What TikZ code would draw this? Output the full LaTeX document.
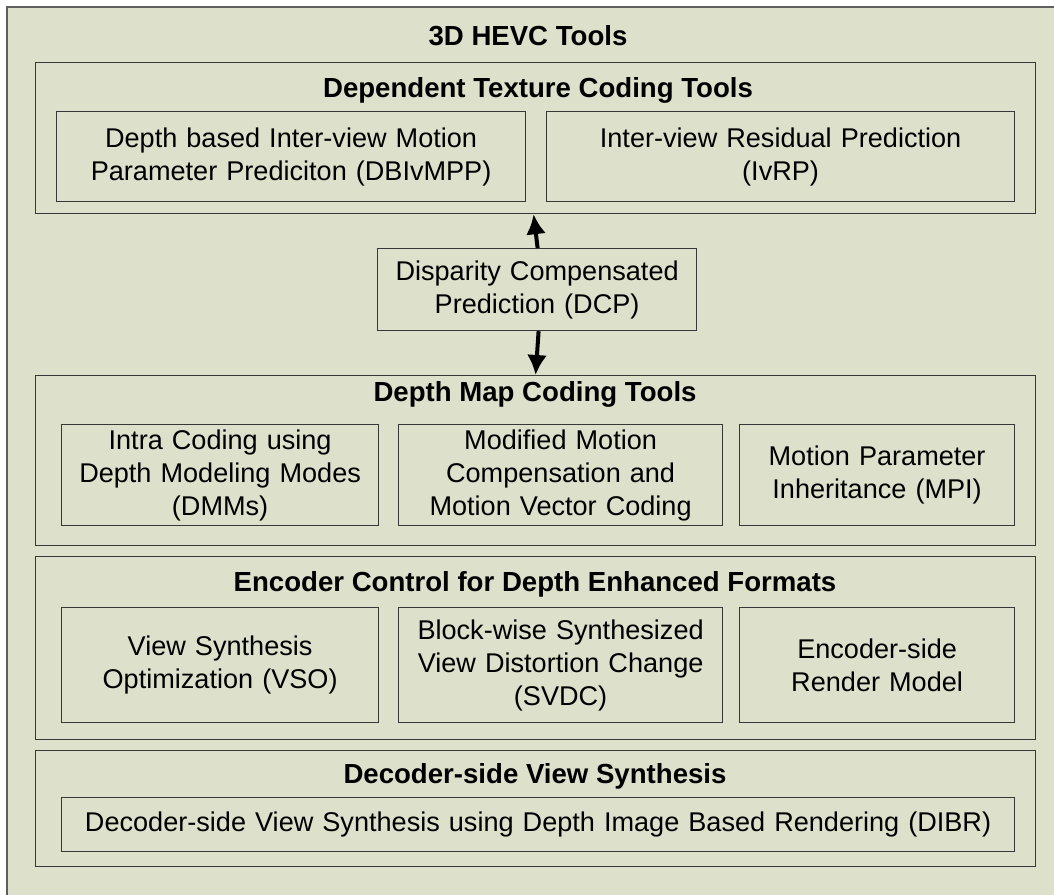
\documentclass[tikz,border=0pt]{standalone}
\usepackage{fontspec}
\setmainfont{Liberation Sans}
\usetikzlibrary{arrows.meta}

\definecolor{panelgreen}{RGB}{221,224,203}
\definecolor{boxline}{RGB}{55,55,55}

\begin{document}
\begin{tikzpicture}[x=1pt, y=-1pt,
		group/.style={draw=boxline, line width=1.2pt, anchor=north west, inner sep=0pt},
		tool/.style={draw=boxline, line width=1.2pt, anchor=north west, inner sep=0pt,
				align=center, font=\fontsize{27.1}{33}\selectfont},
		heading/.style={anchor=base, inner sep=0pt, font=\fontsize{27.6}{30}\selectfont\bfseries},
		link/.style={line width=4pt, -{Latex[length=20pt, width=20pt]}}
	]
		\useasboundingbox (0, 0) rectangle (1054, 894);
		\begin{scope}
			\clip (0, 0) rectangle (1054, 894);
			\filldraw[fill=panelgreen, draw=boxline!80, line width=2pt] (7, 7) rectangle (1075, 915);
		\end{scope}

		\node[heading] (hevc) at (528, 45) {3D HEVC Tools};

		% dependent texture coding
		\node[group, minimum width=1000, minimum height=151] (texture) at (35, 62) {};
		\node[heading] (texturetitle) at (538, 97) {Dependent Texture Coding Tools};
		\node[tool, text width=469, minimum height=90] (dbivmpp) at (56, 111)
			{Depth based Inter-view Motion\\Parameter Prediciton (DBIvMPP)};
		\node[tool, text width=468, minimum height=90] (ivrp) at (546, 111)
			{Inter-view Residual Prediction\\(IvRP)};

		\node[tool, text width=319, minimum height=82] (dcp) at (377, 248)
			{Disparity Compensated\\Prediction (DCP)};

		% depth map coding
		\node[group, minimum width=1000, minimum height=170] (depth) at (35, 375) {};
		\node[heading] (depthtitle) at (535, 401) {Depth Map Coding Tools};
		\node[tool, text width=317, minimum height=101] (dmm) at (61, 424)
			{Intra Coding using\\Depth Modeling Modes\\(DMMs)};
		\node[tool, text width=324, minimum height=101] (mmc) at (398, 424)
			{Modified Motion\\Compensation and\\Motion Vector Coding};
		\node[tool, text width=275, minimum height=101] (mpi) at (739, 424)
			{Motion Parameter\\Inheritance (MPI)};

		% encoder control
		\node[group, minimum width=1000, minimum height=183] (encoder) at (35, 556) {};
		\node[heading] (encodertitle) at (535, 591) {Encoder Control for Depth Enhanced Formats};
		\node[tool, text width=317, minimum height=115] (vso) at (61, 607)
			{View Synthesis\\Optimization (VSO)};
		\node[tool, text width=324, minimum height=115] (svdc) at (398, 607)
			{Block-wise Synthesized\\View Distortion Change\\(SVDC)};
		\node[tool, text width=275, minimum height=115] (render) at (739, 607)
			{Encoder-side\\Render Model};

		% decoder side
		\node[group, minimum width=1000, minimum height=116] (decoder) at (35, 750) {};
		\node[heading] (decodertitle) at (535, 783) {Decoder-side View Synthesis};
		\node[tool, text width=953, minimum height=54] (dibr) at (61, 797)
			{Decoder-side View Synthesis using Depth Image Based Rendering (DIBR)};

		\draw[link] ([xshift=0.5pt]dcp.north) -- ([xshift=-2pt]texture.south);
		\draw[link] ([xshift=1.5pt]dcp.south) -- (depth.north);
	\end{tikzpicture}
\end{document}
